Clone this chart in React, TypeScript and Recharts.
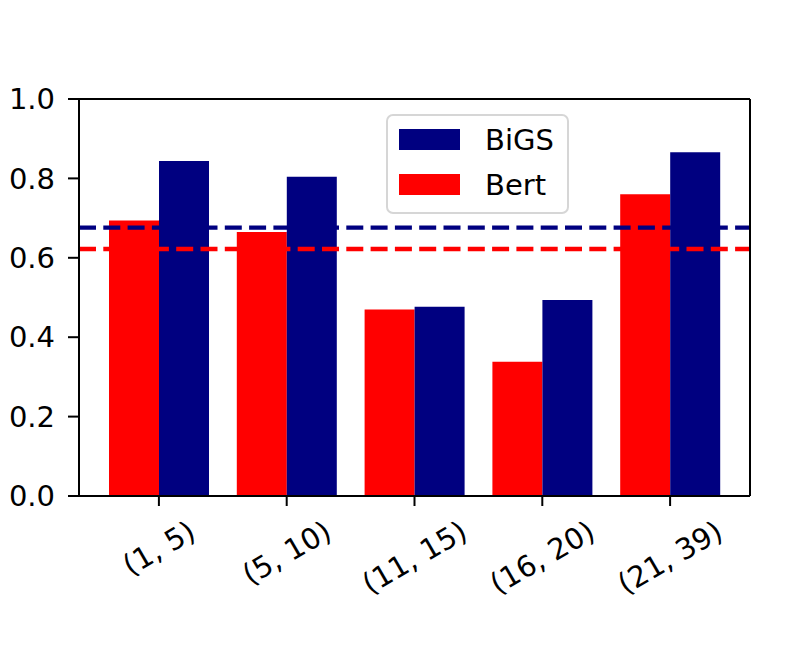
import React from 'react';
import { ComposedChart, Bar, XAxis, YAxis, ReferenceLine, Legend } from 'recharts';

const categories = ['(1, 5)', '(5, 10)', '(11, 15)', '(16, 20)', '(21, 39)'];
const bertScores = [0.694, 0.665, 0.47, 0.338, 0.76];
const bigsScores = [0.844, 0.804, 0.477, 0.494, 0.866];
const yTicks = [0, 0.2, 0.4, 0.6, 0.8, 1.0];
const bigsMean = 0.676;
const bertMean = 0.622;

const FONT = '"DejaVu Sans", sans-serif';
const FONT_SIZE = 29;
const RED = '#ff0000';
const NAVY = '#000080';

const data = categories.map((name, i) => ({
    name,
    bert: bertScores[i],
    bigs: bigsScores[i],
}));

let measureCtx: CanvasRenderingContext2D | null = null;
function textWidth(s: string) {
    if (!measureCtx) {
        measureCtx = document.createElement('canvas').getContext('2d');
    }
    if (!measureCtx) return s.length * 15;
    measureCtx.font = `${FONT_SIZE}px "DejaVu Sans"`;
    return measureCtx.measureText(s).width;
}

// rotated label, bounding box centred under the tick like matplotlib does
const RotatedTick = (props: any) => {
    const { x, y, payload } = props;
    const w = textWidth(payload.value);
    const cy = 9 + (w * 0.5 + 27 * 0.866) / 2;
    return (
        <g transform={`translate(${x},${y + cy})`}>
            <text
                textAnchor="middle"
                dominantBaseline="central"
                transform="rotate(-30)"
                fontSize={FONT_SIZE}
                fontFamily={FONT}
                fill="#000"
            >
                {payload.value}
            </text>
        </g>
    );
};

const legendItems = [
    { label: 'BiGS', color: NAVY },
    { label: 'Bert', color: RED },
];

const LegendBox = () => (
    <svg width={183} height={100} style={{ display: 'block' }}>
        <rect x={1} y={1} width={181} height={98} rx={6} fill="rgba(255,255,255,0.8)" stroke="#d6d6d6" strokeWidth={2} />
        {legendItems.map((it, i) => (
            <g key={it.label}>
                <rect x={13} y={15 + i * 45} width={61} height={21} fill={it.color} />
                <text x={99} y={36 + i * 45} fontSize={FONT_SIZE} fontFamily={FONT} fill="#000">
                    {it.label}
                </text>
            </g>
        ))}
    </svg>
);

export default function App() {
    return (
        <div style={{ position: 'absolute', left: 0, top: 0, background: '#fff' }}>
            <ComposedChart
                width={789}
                height={661}
                data={data}
                margin={{ top: 98, right: 38, bottom: 0, left: 0 }}
                barCategoryGap={14}
                barGap={0}
            >
                <XAxis
                    dataKey="name"
                    height={165}
                    padding={{ left: 16, right: 16 }}
                    tick={<RotatedTick />}
                    tickSize={10}
                    tickLine={{ stroke: '#000', strokeWidth: 2 }}
                    axisLine={{ stroke: '#000', strokeWidth: 2 }}
                    interval={0}
                />
                <XAxis
                    xAxisId="top"
                    dataKey="name"
                    orientation="top"
                    height={1}
                    tick={false}
                    tickLine={false}
                    axisLine={{ stroke: '#000', strokeWidth: 2 }}
                />
                <YAxis
                    domain={[0, 1]}
                    ticks={yTicks}
                    width={79}
                    tickSize={11}
                    tickMargin={13}
                    tickFormatter={(v: number) => v.toFixed(1)}
                    tick={{ fontSize: FONT_SIZE, fontFamily: FONT, fill: '#000' }}
                    tickLine={{ stroke: '#000', strokeWidth: 2 }}
                    axisLine={{ stroke: '#000', strokeWidth: 2 }}
                />
                <YAxis
                    yAxisId="right"
                    orientation="right"
                    domain={[0, 1]}
                    width={1}
                    tick={false}
                    tickLine={false}
                    axisLine={{ stroke: '#000', strokeWidth: 2 }}
                />
                <Bar dataKey="bert" fill={RED} isAnimationActive={false} />
                <Bar dataKey="bigs" fill={NAVY} isAnimationActive={false} />
                <ReferenceLine y={bigsMean} stroke={NAVY} strokeWidth={4.4} strokeDasharray="17 7.3" />
                <ReferenceLine y={bertMean} stroke={RED} strokeWidth={4.4} strokeDasharray="17 7.3" />
                <Legend
                    layout="horizontal"
                    verticalAlign="middle"
                    align="center"
                    wrapperStyle={{ top: 114, left: 386, width: 183, height: 100 }}
                    content={() => <LegendBox />}
                />
            </ComposedChart>
        </div>
    );
}
